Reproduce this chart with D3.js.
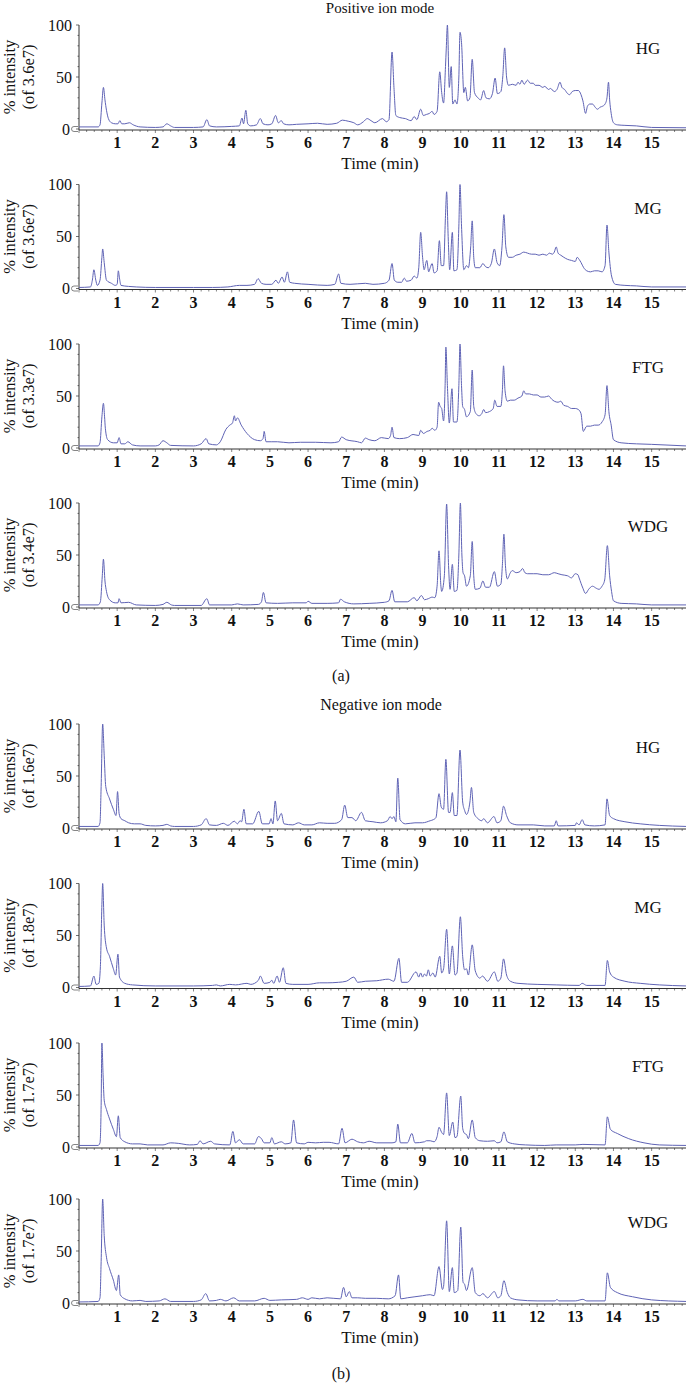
<!DOCTYPE html>
<html><head><meta charset="utf-8">
<script src="https://cdn.jsdelivr.net/npm/d3@7"></script>
<style>
html,body{margin:0;padding:0;background:#fff;}
svg{display:block;font-family:"Liberation Serif","DejaVu Serif",serif;}
</style></head>
<body><svg id="chart" width="689" height="1393"></svg>
<script>
// ---------- data (time in min, % intensity) ----------
const xTicks = [1,2,3,4,5,6,7,8,9,10,11,12,13,14,15];
const yTicks = [0,50,100];
const groups = ["HG","MG","FTG","WDG"];
const posScale = ["3.6e7","3.6e7","3.3e7","3.4e7"];
const negScale = ["1.6e7","1.8e7","1.7e7","1.7e7"];
const sectionTitles = ["Positive ion mode","Negative ion mode"];
const sectionTags = ["(a)","(b)"];

const posHG = [[0,2],[0.5,2],[0.55,4],[0.6,25],[0.64,40],[0.68,28],[0.72,18],[0.77,10],[0.85,6],[0.95,5],[1.02,5],[1.07,8],[1.12,5],[1.2,5],[1.32,6],[1.42,4],[1.6,2],[2.0,1.5],[2.2,2],[2.3,5],[2.4,3],[2.5,1.5],[3.0,1.5],[3.25,2],[3.35,9],[3.42,3],[3.6,2],[4.0,2.5],[4.2,3],[4.27,10.5],[4.31,5],[4.37,18],[4.42,5],[4.5,3],[4.65,4],[4.75,10],[4.82,5],[4.95,4],[5.05,5],[5.15,13],[5.22,6],[5.3,8],[5.36,5],[5.5,4],[5.7,4.5],[6.0,5],[6.25,5.5],[6.5,4.5],[6.75,5.5],[6.9,8.5],[7.05,7.5],[7.2,6],[7.3,4],[7.45,7],[7.55,10],[7.65,8],[7.75,6],[7.95,10],[8.05,7],[8.12,9],[8.2,74],[8.25,40],[8.3,13],[8.4,11],[8.55,10],[8.7,8],[8.78,12],[8.85,9],[8.95,19],[9.02,13],[9.1,14],[9.18,15],[9.25,17],[9.3,14],[9.38,17],[9.45,55],[9.5,35],[9.55,25],[9.6,60],[9.62,77],[9.65,100],[9.7,40],[9.75,60],[9.79,24],[9.85,28],[9.9,24],[9.95,50],[9.98,93],[10.02,83],[10.08,35],[10.12,40],[10.18,27],[10.24,30],[10.3,67],[10.36,35],[10.45,30],[10.52,28],[10.6,37],[10.66,30],[10.75,29],[10.83,34],[10.9,49],[10.96,34],[11.05,36],[11.1,50],[11.15,78],[11.2,50],[11.25,42],[11.35,43],[11.45,42],[11.5,45],[11.55,43],[11.6,47],[11.66,43],[11.75,47],[11.82,44],[11.9,44],[11.95,42],[12.05,42],[12.15,40],[12.2,41],[12.3,38],[12.35,39],[12.45,36],[12.52,38],[12.6,45],[12.65,40],[12.72,38],[12.8,34],[12.85,33],[12.92,36],[13.0,37],[13.08,37],[13.15,33],[13.2,27],[13.27,15],[13.32,22],[13.38,24],[13.45,24],[13.52,21],[13.58,19],[13.65,21],[13.72,22],[13.78,24],[13.83,30],[13.87,45],[13.9,28],[13.94,15],[14.0,6],[14.1,4],[14.3,3.5],[14.6,3],[15.0,1.5],[15.9,1.2]];

const posMG = [[0,1],[0.3,1.5],[0.35,8],[0.39,18],[0.44,8],[0.48,3],[0.55,8],[0.6,30],[0.62,38],[0.66,25],[0.72,8],[0.85,5],[0.95,3],[1.0,4],[1.03,17],[1.06,10],[1.1,3],[1.3,2],[1.5,1.5],[2.0,1],[3.0,1],[3.5,1],[3.9,1.5],[4.2,3],[4.4,3],[4.6,4],[4.69,9.5],[4.78,5],[4.9,4],[5.05,4],[5.16,8],[5.22,5],[5.32,11],[5.38,6],[5.46,16],[5.52,6],[5.65,5],[6.0,4],[6.5,3],[6.7,4],[6.8,14],[6.86,5],[7.1,4],[7.5,5],[7.7,4],[8.0,5],[8.12,8],[8.2,24],[8.26,8],[8.35,6],[8.45,6],[8.52,10],[8.58,7],[8.7,8],[8.78,12],[8.85,10],[8.9,20],[8.95,54],[9.0,30],[9.04,18],[9.11,27],[9.16,16],[9.2,20],[9.25,24],[9.3,15],[9.38,17],[9.44,46],[9.49,22],[9.55,22],[9.6,70],[9.63,93],[9.67,50],[9.71,18],[9.78,54],[9.82,17],[9.9,18],[9.95,60],[9.98,100],[10.02,60],[10.08,18],[10.15,22],[10.2,20],[10.26,40],[10.3,65],[10.34,30],[10.38,20],[10.5,20],[10.58,24],[10.65,21],[10.72,20],[10.8,24],[10.88,38],[10.95,25],[11.02,22],[11.08,40],[11.13,71],[11.18,40],[11.25,30],[11.35,30],[11.45,32],[11.55,33],[11.65,35],[11.75,34],[11.85,33],[11.95,33],[12.05,32],[12.15,33],[12.25,32],[12.32,34],[12.4,33],[12.45,35],[12.5,40],[12.55,34],[12.62,32],[12.7,30],[12.8,28],[12.9,27],[13.0,26],[13.05,30],[13.1,28],[13.15,25],[13.22,20],[13.3,17],[13.4,16],[13.5,17],[13.6,17],[13.7,16],[13.78,22],[13.83,61],[13.88,35],[13.95,12],[14.05,4],[14.3,3],[14.6,2.5],[15.0,1.5],[15.9,1.5]];

const posFTG = [[0,2],[0.5,2],[0.55,5],[0.6,30],[0.64,43],[0.67,30],[0.69,19],[0.75,8],[0.9,5],[1.0,5],[1.05,10],[1.1,4],[1.2,4],[1.28,6],[1.4,3],[1.6,2],[2.0,2],[2.1,3],[2.2,7],[2.3,5],[2.4,2.5],[3.0,2],[3.2,4],[3.33,9],[3.4,4],[3.6,3],[3.7,6],[3.85,18],[3.95,22],[4.02,24],[4.07,31],[4.1,26],[4.15,29],[4.25,22],[4.4,14],[4.6,8],[4.75,7],[4.82,9],[4.85,16],[4.9,6],[5.05,6],[5.2,6],[5.5,5],[5.8,5.5],[6.2,5.5],[6.6,5],[6.8,6],[6.88,10.5],[7.0,8],[7.3,6],[7.4,5],[7.5,9.5],[7.6,8],[7.75,7],[7.92,10],[8.1,9],[8.16,12],[8.2,20],[8.25,10],[8.4,9],[8.6,10],[8.75,13],[8.9,12],[8.95,17],[9.02,14],[9.12,16],[9.2,17],[9.25,19],[9.32,17],[9.38,20],[9.42,44],[9.46,40],[9.5,38],[9.55,26],[9.59,60],[9.61,97],[9.65,60],[9.7,24],[9.77,57],[9.81,25],[9.9,25],[9.95,60],[9.98,100],[10.02,60],[10.05,40],[10.1,37],[10.15,30],[10.25,35],[10.3,75],[10.34,40],[10.4,33],[10.48,31],[10.55,33],[10.6,37],[10.65,34],[10.75,35],[10.85,38],[10.89,46],[10.95,40],[11.05,40],[11.09,55],[11.12,79],[11.16,55],[11.22,45],[11.3,46],[11.4,46],[11.5,48],[11.6,50],[11.65,55],[11.7,52],[11.8,52],[11.9,51],[12.0,51],[12.1,49],[12.2,49],[12.3,50],[12.38,47],[12.45,45],[12.55,44],[12.62,45],[12.7,41],[12.8,40],[12.9,38],[13.0,38],[13.08,37],[13.15,33],[13.21,16],[13.3,21],[13.4,21],[13.5,22],[13.6,22],[13.7,25],[13.78,32],[13.83,60],[13.88,35],[13.94,22],[14.0,8],[14.2,5],[14.6,4],[15.0,3.5],[15.9,2]];

const posWDG = [[0,2],[0.5,2],[0.56,5],[0.61,30],[0.64,46],[0.68,25],[0.72,15],[0.8,7],[0.95,4],[1.02,4],[1.05,8],[1.1,4],[1.3,4.5],[1.5,2],[2.0,1.5],[2.2,2.5],[2.3,4.5],[2.42,2],[2.5,1.5],[3.2,1.5],[3.35,8],[3.42,2],[4.0,2],[4.15,3],[4.3,2],[4.7,2.5],[4.78,5],[4.83,14],[4.9,4],[5.2,3.5],[5.6,4],[5.95,4],[6.0,5.5],[6.1,3.5],[6.5,3.5],[6.8,4],[6.85,7.5],[6.95,5],[7.2,3],[7.6,3.5],[8.0,4.5],[8.12,6],[8.2,16],[8.27,5],[8.6,5],[8.78,9],[8.85,6],[8.97,11],[9.05,7],[9.15,8],[9.25,9.5],[9.32,9],[9.38,20],[9.43,54],[9.48,20],[9.5,15],[9.57,30],[9.63,99],[9.68,40],[9.72,17],[9.78,41],[9.83,15],[9.9,16],[9.95,50],[9.99,100],[10.03,50],[10.06,33],[10.1,30],[10.15,20],[10.25,30],[10.3,63],[10.34,30],[10.38,17],[10.5,18],[10.58,25],[10.65,19],[10.75,19],[10.88,34],[10.96,20],[11.05,22],[11.09,40],[11.13,70],[11.17,40],[11.22,27],[11.3,33],[11.35,35],[11.45,33],[11.55,34],[11.62,37],[11.68,33],[11.75,32],[11.9,32],[12.0,32],[12.15,31],[12.3,31],[12.45,33],[12.55,32],[12.65,31],[12.8,30],[12.9,28],[13.0,32],[13.07,31],[13.1,28],[13.2,18],[13.27,13],[13.35,17],[13.45,20],[13.55,18],[13.62,17],[13.7,20],[13.77,26],[13.84,59],[13.9,30],[13.95,15],[14.0,6],[14.2,3.5],[14.6,3],[15.0,2],[15.9,2]];

const negHG = [[0,1.5],[0.5,1.5],[0.55,5],[0.58,40],[0.62,100],[0.66,70],[0.7,40],[0.8,28],[0.9,18],[0.97,12],[1.01,35],[1.05,14],[1.1,9],[1.2,7],[1.3,5],[1.45,4],[1.6,4],[1.75,2.5],[2.0,2],[2.2,2.5],[2.3,3.5],[2.4,2],[2.5,1.5],[3.0,1.5],[3.2,3],[3.33,9],[3.42,3],[3.6,2.5],[3.78,4.5],[3.9,2.5],[4.07,6.5],[4.15,4],[4.22,7],[4.26,6],[4.32,18],[4.38,4],[4.55,4],[4.71,16],[4.8,4],[4.98,4],[5.03,9],[5.08,4],[5.14,26],[5.2,7],[5.3,14],[5.37,4],[5.6,3],[5.75,5],[5.9,3],[6.1,3],[6.3,5],[6.5,4.5],[6.7,4.5],[6.88,8],[6.96,22],[7.04,10],[7.15,10],[7.25,7],[7.4,15],[7.5,7],[7.7,6],[7.9,5],[8.08,7],[8.15,11],[8.2,9],[8.25,11],[8.3,6],[8.35,48],[8.41,8],[8.55,4],[8.8,5],[9.0,5],[9.2,7],[9.28,8],[9.35,10],[9.43,33],[9.49,20],[9.55,18],[9.61,66],[9.68,15],[9.72,15],[9.78,34],[9.83,12],[9.9,12],[9.98,75],[10.05,25],[10.1,17],[10.15,13],[10.24,25],[10.28,39],[10.34,15],[10.45,9],[10.55,7],[10.6,9],[10.7,5],[10.87,11],[10.95,5],[11.05,7],[11.12,21],[11.2,12],[11.3,5],[11.5,3],[11.9,3],[12.2,2],[12.45,2],[12.5,7],[12.55,2],[13.0,2.5],[13.03,5],[13.1,3],[13.18,8],[13.25,3],[13.5,2],[13.78,3],[13.83,28],[13.9,12],[14.0,9],[14.3,6],[14.7,4],[15.2,2.5],[15.9,1.5]];

const negMG = [[0,1],[0.3,1.5],[0.39,11],[0.45,3],[0.52,4],[0.56,20],[0.6,80],[0.62,100],[0.66,60],[0.72,38],[0.8,30],[0.9,18],[0.96,12],[1.02,32],[1.06,10],[1.2,4],[1.4,2.5],[2.0,1.5],[3.0,1.5],[3.5,2],[3.6,2.5],[3.7,1.5],[3.95,3],[4.1,2.5],[4.4,4],[4.5,3],[4.7,7],[4.75,11],[4.85,4],[5.0,5],[5.05,7],[5.1,4],[5.19,11],[5.25,5],[5.35,19],[5.42,4],[5.6,3],[6.0,3],[6.3,4.5],[6.5,4.5],[6.8,5],[7.0,6],[7.2,10],[7.3,5],[7.5,6],[7.8,6.5],[8.1,8],[8.25,6],[8.38,28],[8.45,5],[8.6,5],[8.83,15],[8.9,10],[8.95,14],[9.0,10],[9.05,13],[9.1,11],[9.15,17],[9.2,11],[9.27,14],[9.33,10],[9.45,30],[9.5,14],[9.55,18],[9.63,56],[9.7,13],[9.78,40],[9.85,12],[9.9,14],[9.99,68],[10.05,30],[10.1,17],[10.15,18],[10.2,12],[10.3,41],[10.38,16],[10.5,9],[10.57,11],[10.7,6],[10.88,15],[10.97,6],[11.05,9],[11.12,27.5],[11.2,12],[11.3,6],[11.5,4],[12.0,3],[12.5,2.5],[13.1,2],[13.18,4],[13.3,2],[13.78,2],[13.84,26],[13.9,15],[14.0,10],[14.3,6],[14.7,4],[15.2,2.5],[15.9,1.5]];

const negFTG = [[0,1.5],[0.5,1.5],[0.55,4],[0.58,40],[0.6,100],[0.63,70],[0.66,45],[0.72,36],[0.8,27],[0.9,17],[0.98,10],[1.03,30],[1.08,9],[1.2,5],[1.4,3],[1.6,3],[1.8,2],[2.2,2],[2.4,4],[2.6,3.5],[2.9,2],[3.1,2.5],[3.17,6],[3.25,3],[3.45,5.5],[3.55,3],[3.95,2],[4.03,15],[4.1,4],[4.2,7],[4.3,3],[4.6,3],[4.7,10],[4.78,8],[4.85,4],[5.0,4],[5.05,9],[5.12,3],[5.3,5],[5.4,3],[5.55,4],[5.62,26],[5.7,4],[5.9,3],[6.0,4.5],[6.2,4],[6.4,4.5],[6.55,4.5],[6.8,3],[6.89,18],[6.97,4],[7.15,7.5],[7.3,5],[7.45,4],[7.6,5.5],[7.8,4],[8.2,4],[8.3,5],[8.35,22],[8.42,4],[8.6,4],[8.72,13],[8.8,4],[9.05,5],[9.1,6],[9.2,6],[9.3,5],[9.38,10],[9.43,19],[9.5,14],[9.55,12],[9.63,52],[9.7,11],[9.79,24],[9.85,9],[9.9,10],[10.0,49],[10.05,18],[10.1,13],[10.15,12],[10.2,8],[10.3,26],[10.38,9],[10.5,6],[10.7,5.5],[10.88,6],[10.95,4],[11.05,5],[11.13,14.5],[11.22,5],[11.4,3],[11.7,2],[12.2,1.5],[12.5,2],[13.0,2],[13.2,2.5],[13.78,2],[13.84,29],[13.92,17],[14.1,13],[14.4,8],[14.8,4],[15.2,2],[15.9,1.5]];

const negWDG = [[0,1],[0.5,1.5],[0.55,5],[0.58,40],[0.62,100],[0.66,65],[0.72,44],[0.8,33],[0.9,22],[0.98,12],[1.04,27],[1.08,8],[1.2,4],[1.4,2],[1.6,2.5],[1.75,1.5],[2.1,2],[2.25,4],[2.4,1.5],[3.0,1.5],[3.2,3],[3.32,9],[3.42,2],[3.6,2.5],[3.7,3.5],[3.85,2],[4.05,5],[4.2,2],[4.6,2],[4.85,4.5],[5.0,2.5],[5.3,3],[5.7,3.5],[5.85,5],[6.0,3.5],[6.1,5],[6.3,4],[6.5,5],[6.85,4],[6.93,15],[7.0,6],[7.08,11],[7.15,5],[7.3,5],[7.5,4.5],[7.8,4.5],[8.1,4],[8.28,7],[8.37,27],[8.43,4],[8.6,5],[8.8,6],[9.0,7],[9.2,8],[9.3,7],[9.43,35],[9.52,13],[9.55,16],[9.63,79],[9.7,11],[9.78,34],[9.83,10],[9.92,12],[10.0,73],[10.06,20],[10.1,18],[10.15,12],[10.3,34],[10.38,10],[10.5,7],[10.58,9],[10.7,5],[10.88,11],[10.97,5],[11.05,7],[11.13,21.5],[11.22,10],[11.3,5],[11.5,3],[12.0,2],[12.47,2],[12.52,3.5],[12.57,2],[13.0,2],[13.2,3.5],[13.3,2],[13.78,2],[13.84,29],[13.92,15],[14.1,10],[14.5,6],[15.0,3],[15.9,1.5]];

const posSeries = [posHG, posMG, posFTG, posWDG];
const negSeries = [negHG, negMG, negFTG, negWDG];

// ---------- layout ----------
const svg = d3.select("#chart");
const lineColor = "#5f63b5";
const axisColor = "#333";
const xMin = 0, xMax = 15.9;
const x = d3.scaleLinear().domain([xMin, xMax]).range([79, 686]);
const panelH = 104;
const posTops = [25, 184.5, 344, 503];
const negTops = [724, 883.5, 1043, 1199];

function panel(top, data, group, scaleTxt) {
  const y = d3.scaleLinear().domain([0, 100]).range([top + panelH, top]);
  const g = svg.append("g");
  const axisY = y(0) + 1;

  g.append("line").attr("x1", x(0)).attr("x2", x(0))
    .attr("y1", y(100)).attr("y2", axisY)
    .attr("stroke", axisColor).attr("stroke-width", 1);
  d3.range(0, 101, 10).forEach(v => {
    const major = yTicks.includes(v);
    g.append("line").attr("x1", x(0) - (major ? 3 : 1.5)).attr("x2", x(0))
      .attr("y1", y(v)).attr("y2", y(v))
      .attr("stroke", axisColor).attr("stroke-width", 0.7);
  });
  yTicks.forEach(v => {
    g.append("text").attr("x", v === 0 ? 70 : 72).attr("y", y(v))
      .attr("dy", "0.35em").attr("text-anchor", "end")
      .attr("font-size", 16).attr("fill", "#111").text(v);
  });
  const bx = x(0), by = y(0);
  g.append("path")
    .attr("d", `M${bx-1},${by-2.5} L${bx-5},${by-2.5} A2.5,2.5 0 0 0 ${bx-5},${by+2.5} L${bx-1},${by+2.5}`)
    .attr("fill", "none").attr("stroke", "#666").attr("stroke-width", 0.8);

  g.append("line").attr("x1", x(0)).attr("x2", x(xMax))
    .attr("y1", axisY).attr("y2", axisY)
    .attr("stroke", axisColor).attr("stroke-width", 1);
  d3.range(0, 80).map(i => i * 0.2).filter(t => t <= xMax + 1e-9).forEach(t => {
    const major = Math.abs(t - Math.round(t)) < 1e-6;
    g.append("line").attr("x1", x(t)).attr("x2", x(t))
      .attr("y1", axisY).attr("y2", axisY + (major ? 3 : 2))
      .attr("stroke", axisColor).attr("stroke-width", 0.6);
  });
  xTicks.forEach(t => {
    g.append("text").attr("x", x(t)).attr("y", axisY + 18)
      .attr("text-anchor", "middle").attr("font-size", 16)
      .attr("font-weight", "bold").attr("fill", "#111").text(t);
  });
  g.append("text").attr("x", 380).attr("y", axisY + 39)
    .attr("text-anchor", "middle").attr("font-size", 17).attr("fill", "#111")
    .text("Time (min)");

  const yc = top + panelH / 2;
  g.append("text").attr("transform", `translate(15,${yc}) rotate(-90)`)
    .attr("text-anchor", "middle").attr("font-size", 16.5).attr("fill", "#111")
    .text("% intensity");
  g.append("text").attr("transform", `translate(34,${yc}) rotate(-90)`)
    .attr("text-anchor", "middle").attr("font-size", 16.5).attr("fill", "#111")
    .text(`(of ${scaleTxt})`);

  g.append("text").attr("x", 648).attr("y", top + 29)
    .attr("text-anchor", "middle").attr("font-size", 17).attr("fill", "#111")
    .text(group);

  const line = d3.line().x(d => x(d[0])).y(d => y(d[1])).curve(d3.curveMonotoneX);
  g.append("path").datum(data).attr("d", line)
    .attr("fill", "none").attr("stroke", lineColor).attr("stroke-width", 1)
    .attr("stroke-linejoin", "round");
}

svg.append("text").attr("x", 380).attr("y", 13).attr("text-anchor", "middle")
  .attr("font-size", 15).attr("fill", "#111").text(sectionTitles[0]);
svg.append("text").attr("x", 381).attr("y", 710).attr("text-anchor", "middle")
  .attr("font-size", 16).attr("fill", "#111").text(sectionTitles[1]);
svg.append("text").attr("x", 341).attr("y", 681).attr("text-anchor", "middle")
  .attr("font-size", 16).attr("fill", "#111").text(sectionTags[0]);
svg.append("text").attr("x", 341).attr("y", 1379).attr("text-anchor", "middle")
  .attr("font-size", 16).attr("fill", "#111").text(sectionTags[1]);

groups.forEach((gname, i) => panel(posTops[i], posSeries[i], gname, posScale[i]));
groups.forEach((gname, i) => panel(negTops[i], negSeries[i], gname, negScale[i]));
</script></body></html>
